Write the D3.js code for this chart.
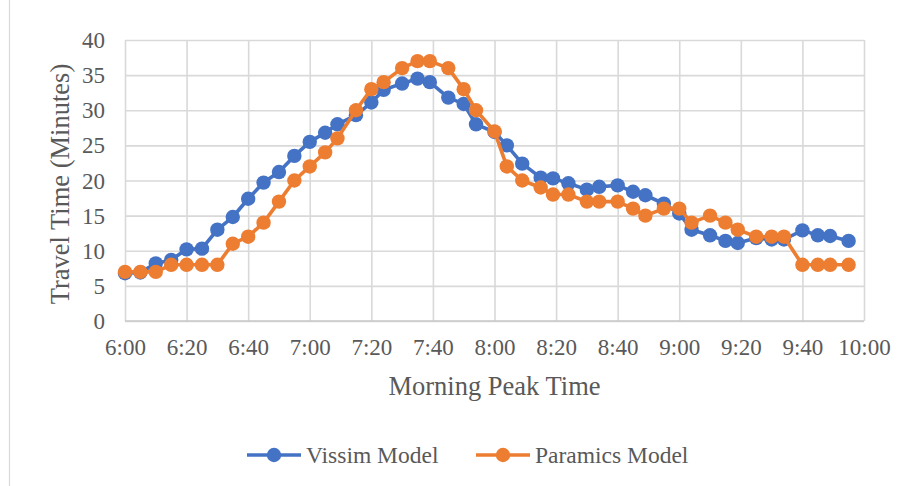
<!DOCTYPE html>
<html>
<head>
<meta charset="utf-8">
<script src="https://cdn.jsdelivr.net/npm/d3@7"></script>
<style>
  html, body { margin: 0; padding: 0; background: #ffffff; }
  svg { display: block; }
</style>
</head>
<body>
<svg id="chart" width="909" height="486"></svg>
<script>
// Sampling times (clock time of each observation)
const times = [
  "6:00","6:05","6:10","6:15","6:20","6:25","6:30","6:35","6:40","6:45",
  "6:50","6:55","7:00","7:05","7:09","7:15","7:20","7:24","7:30","7:35",
  "7:39","7:45","7:50","7:54","8:00","8:04","8:09","8:15","8:19","8:24",
  "8:30","8:34","8:40","8:45","8:49","8:55","9:00","9:04","9:10","9:15",
  "9:19","9:25","9:30","9:34","9:40","9:45","9:49","9:55"
];

// Travel time in minutes, Vissim model
const vissim = [
  6.8, 6.9, 8.2, 8.7, 10.2, 10.3, 13.0, 14.8, 17.4, 19.7,
  21.2, 23.5, 25.5, 26.8, 28.0, 29.3, 31.1, 32.9, 33.8, 34.5,
  34.0, 31.8, 30.9, 28.0, 26.9, 25.0, 22.4, 20.4, 20.3, 19.6,
  18.7, 19.1, 19.3, 18.4, 17.9, 16.7, 15.3, 13.0, 12.2, 11.4,
  11.1, 11.8, 11.6, 11.6, 12.9, 12.2, 12.1, 11.4
];

// Travel time in minutes, Paramics model
const paramics = [
  7, 7, 7, 8, 8, 8, 8, 11, 12, 14,
  17, 20, 22, 24, 26, 30, 33, 34, 36, 37,
  37, 36, 33, 30, 27, 22, 20, 19, 18, 18,
  17, 17, 17, 16, 15, 16, 16, 14, 15, 14,
  13, 12, 12, 12, 8, 8, 8, 8
];

const xTicks = ["6:00","6:20","6:40","7:00","7:20","7:40","8:00","8:20","8:40","9:00","9:20","9:40","10:00"];
const yTicks = [0, 5, 10, 15, 20, 25, 30, 35, 40];

const seriesNames = ["Vissim Model", "Paramics Model"];
const seriesColors = ["#4472C4", "#ED7D31"];

const toMin = s => { const [h, m] = s.split(":").map(Number); return h * 60 + m; };
const fmt = m => Math.floor(m / 60) + ":" + String(m % 60).padStart(2, "0");

const svg = d3.select("#chart");
const W = 909, H = 486;
const margin = { left: 125, right: 45, top: 40, bottom: 165 };
const x0 = margin.left, x1 = W - margin.right;
const y0 = H - margin.bottom, y1 = margin.top;

const x = d3.scaleLinear().domain([toMin(xTicks[0]), toMin(xTicks[xTicks.length - 1])]).range([x0, x1]);
const y = d3.scaleLinear().domain([0, 40]).range([y0, y1]);

const textColor = "#595959";
const font = "'Liberation Serif', 'Times New Roman', serif";

// chart frame edge on the left
svg.append("line")
  .attr("x1", 9.5).attr("x2", 9.5).attr("y1", 0).attr("y2", H)
  .attr("stroke", "#d9d9d9").attr("stroke-width", 1.2);

// horizontal gridlines
const yAxis = d3.axisLeft(y).tickValues(yTicks).tickSize(-(x1 - x0)).tickPadding(20).tickFormat(d3.format("d"));
const gy = svg.append("g").attr("transform", `translate(${x0},0)`).call(yAxis);
gy.select(".domain").remove();
gy.selectAll(".tick line").attr("stroke", "#d9d9d9").attr("stroke-width", 1.6);
gy.selectAll(".tick text")
  .attr("fill", textColor).attr("font-family", font).attr("font-size", 23)
  .attr("dy", "0.33em");

// vertical gridlines and x labels
const xAxis = d3.axisBottom(x).tickValues(xTicks.map(toMin)).tickSize(-(y0 - y1)).tickPadding(18).tickFormat(fmt);
const gx = svg.append("g").attr("transform", `translate(0,${y0})`).call(xAxis);
gx.select(".domain").remove();
gx.selectAll(".tick line").attr("stroke", "#d9d9d9").attr("stroke-width", 1.6);
gx.selectAll(".tick text")
  .attr("fill", textColor).attr("font-family", font).attr("font-size", 23);

// base axis line
svg.append("line")
  .attr("x1", x0).attr("x2", x1).attr("y1", y(0)).attr("y2", y(0))
  .attr("stroke", "#c8c8c8").attr("stroke-width", 1.6);

// series
const data = [vissim, paramics];
const line = d3.line().x(d => x(d.t)).y(d => y(d.v));
data.forEach((vals, i) => {
  const pts = vals.map((v, j) => ({ t: toMin(times[j]), v }));
  const g = svg.append("g");
  g.append("path").datum(pts)
    .attr("d", line).attr("fill", "none")
    .attr("stroke", seriesColors[i]).attr("stroke-width", 3.6)
    .attr("stroke-linejoin", "round");
  g.selectAll("circle").data(pts).join("circle")
    .attr("cx", d => x(d.t)).attr("cy", d => y(d.v)).attr("r", 7.2)
    .attr("fill", seriesColors[i]);
});

// axis titles
svg.append("text")
  .attr("x", (x0 + x1) / 2).attr("y", 395)
  .attr("text-anchor", "middle")
  .attr("fill", textColor).attr("font-family", font).attr("font-size", 26.5)
  .text("Morning Peak Time");

svg.append("text")
  .attr("transform", `translate(69,184) rotate(-90)`)
  .attr("text-anchor", "middle")
  .attr("fill", textColor).attr("font-family", font).attr("font-size", 26.5)
  .text("Travel Time (Minutes)");

// legend
const legendY = 455;
const legendX = [247, 476];
seriesNames.forEach((name, i) => {
  const g = svg.append("g").attr("transform", `translate(${legendX[i]},${legendY})`);
  g.append("line").attr("x1", 0).attr("x2", 54).attr("y1", 0).attr("y2", 0)
    .attr("stroke", seriesColors[i]).attr("stroke-width", 3.6);
  g.append("circle").attr("cx", 27).attr("cy", 0).attr("r", 7.2).attr("fill", seriesColors[i]);
  g.append("text").attr("x", 59).attr("y", 0).attr("dy", "0.33em")
    .attr("fill", textColor).attr("font-family", font).attr("font-size", 23.5)
    .text(name);
});
</script>
</body>
</html>
